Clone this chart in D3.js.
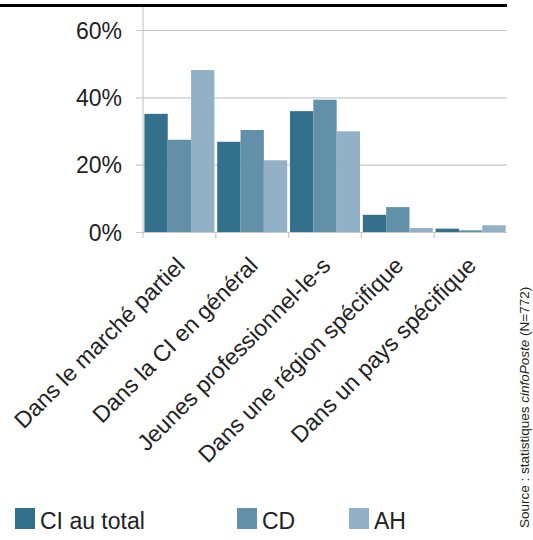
<!DOCTYPE html>
<html><head><meta charset="utf-8">
<script src="https://cdn.jsdelivr.net/npm/d3@7"></script>
<style>body{margin:0;background:#fff}svg{display:block;font-family:"Liberation Sans",Arial,sans-serif}</style>
</head><body>
<svg id="c" width="533" height="540"></svg>
<script>
const categories = ["Dans le marché partiel","Dans la CI en général","Jeunes professionnel-le-s","Dans une région spécifique","Dans un pays spécifique"];
const seriesNames = ["CI au total","CD","AH"];
const ciTotal = [35.1, 26.8, 35.9, 5.1, 1.0];
const cd = [27.4, 30.3, 39.3, 7.4, 0.5];
const ah = [48.1, 21.3, 29.9, 1.2, 2.0];
const yTicks = [0, 20, 40, 60];
const colors = ["#33708b","#6390a9","#93b1c6"];

const series = [ciTotal, cd, ah];
const svg = d3.select("#c");
const x0 = 143, x1 = 507, yTop = 30, yBot = 232;
const x = d3.scaleBand().domain(categories).range([x0, x1]).paddingInner(0).paddingOuter(0);
const xs = d3.scaleBand().domain(seriesNames).range([0, x.bandwidth()]).paddingInner(0).paddingOuter(0.06);
const y = d3.scaleLinear().domain([0, 60]).range([yBot, yTop]);

// top rule
svg.append("line").attr("x1",0).attr("x2",507).attr("y1",5.5).attr("y2",5.5).attr("stroke","#000").attr("stroke-width",3);

// gridlines + y labels
const yAxis = d3.axisLeft(y).tickValues(yTicks).tickSize(0).tickFormat(d => d + "%");
const gy = svg.append("g").attr("transform",`translate(${x0 - 7},0)`).call(yAxis);
gy.select(".domain").remove();
gy.selectAll(".tick line").attr("stroke","#c8c8c8").attr("stroke-width",1.2)
  .attr("x1",0).attr("x2",x1 - x0 + 7);
gy.selectAll(".tick text").attr("x",-14).attr("dy","0.36em").attr("font-size",23).attr("fill","#222")
  .attr("font-family","Liberation Sans, Arial, sans-serif");

// y axis line
svg.append("line").attr("x1",x0).attr("x2",x0).attr("y1",7).attr("y2",yBot+6).attr("stroke","#c8c8c8").attr("stroke-width",1.2);
// category boundary ticks
svg.selectAll("line.ct").data(categories.slice(1)).enter().append("line")
  .attr("x1",d=>x(d)).attr("x2",d=>x(d)).attr("y1",yBot).attr("y2",yBot+6)
  .attr("stroke","#c8c8c8").attr("stroke-width",1.2);

// bars
const g = svg.append("g");
categories.forEach((c, i) => {
  series.forEach((s, j) => {
    g.append("rect")
      .attr("x", x(c) + xs(seriesNames[j]))
      .attr("y", y(s[i]))
      .attr("width", xs.bandwidth())
      .attr("height", yBot - y(s[i]))
      .attr("fill", colors[j]);
  });
});

// x labels rotated
svg.selectAll("text.xl").data(categories).enter().append("text")
  .attr("class","xl")
  .attr("transform", d => `translate(${x(d) + x.bandwidth()/2 + 7},${yBot + 35}) rotate(-45)`)
  .attr("text-anchor","end")
  .attr("font-size",23)
  .attr("fill","#222")
  .text(d => d);

// legend
const legX = [15, 237, 349];
seriesNames.forEach((n, j) => {
  svg.append("rect").attr("x",legX[j]).attr("y",508).attr("width",20).attr("height",21).attr("fill",colors[j]);
  svg.append("text").attr("x",legX[j]+25).attr("y",529).attr("font-size",23).attr("fill","#222").text(n);
});

// source
const src = svg.append("text").attr("transform","translate(529,528) rotate(-90)").attr("font-size",13.5).attr("fill","#222");
src.append("tspan").text("Source : statistiques ");
src.append("tspan").attr("font-style","italic").text("cinfoPoste");
src.append("tspan").text(" (N=772)");
</script>
</body></html>
